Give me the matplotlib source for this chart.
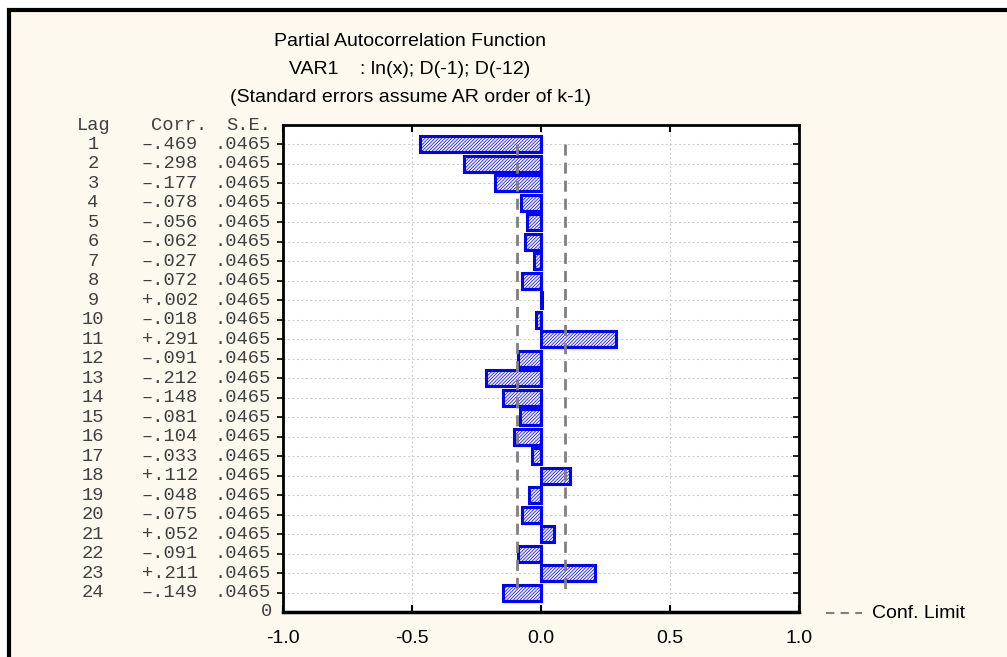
import numpy as np
import matplotlib
matplotlib.use("Agg")
import matplotlib.pyplot as plt
from matplotlib.patches import Rectangle
from matplotlib.lines import Line2D
import matplotlib.transforms as mtransforms

# partial autocorrelations
lags = list(range(1, 25))
corr = [-0.469, -0.298, -0.177, -0.078, -0.056, -0.062, -0.027, -0.072,
        0.002, -0.018, 0.291, -0.091, -0.212, -0.148, -0.081, -0.104,
        -0.033, 0.112, -0.048, -0.075, 0.052, -0.091, 0.211, -0.149]
se = [0.0465] * 24
title_lines = ["Partial Autocorrelation Function",
               "VAR1    : ln(x); D(-1); D(-12)",
               "(Standard errors assume AR order of k-1)"]
xticks = [-1.0, -0.5, 0.0, 0.5, 1.0]

W, H = 1007, 657
plt.rcParams["hatch.linewidth"] = 0.5
fig = plt.figure(figsize=(W / 100, H / 100), dpi=100)
fig.patch.set_facecolor("white")

# cream panel with black frame
fig.patches.append(Rectangle((9 / W, -0.1), 1.1, 1 - 10 / H + 0.1,
                             transform=fig.transFigure, facecolor="#fdf9ee",
                             edgecolor="black", lw=3, zorder=-10))

ax = fig.add_axes([283 / W, 1 - 612 / H, 516 / W, 487 / H])
ax.set_facecolor("white")
ax.set_xlim(-1, 1)
ax.set_ylim(25, 0)

ax.barh(lags, corr, height=0.82, color="#f2f2ff", edgecolor="#0000ff",
        hatch="//////////", lw=2.2, zorder=3)

# confidence limits (2 * S.E.)
lim = 2 * np.array(se)
ax.plot(lim, lags, color="#808080", lw=2, ls=(0, (4, 2.5)), zorder=4)
ax.plot(-lim, lags, color="#808080", lw=2, ls=(0, (4, 2.5)), zorder=4)

ax.set_xticks(xticks)
ax.set_xticklabels(["%.1f" % v for v in xticks], fontsize=14,
                   family="Liberation Sans")
ax.set_yticks(lags)
ax.set_yticklabels([])
ax.tick_params(axis="x", direction="in", top=True, length=5, width=1.5, pad=13)
ax.tick_params(axis="y", direction="out", length=4, width=1.2)
ax.grid(True, color="#cfcfcf", ls=(0, (2, 2)), lw=0.8, zorder=0)
for s in ax.spines.values():
    s.set_linewidth(2)
ax.spines["bottom"].set_linewidth(2.5)

ax2 = ax.twinx()
ax2.set_ylim(25, 0)
ax2.set_yticks(lags)
ax2.set_yticklabels([])
ax2.tick_params(axis="y", direction="in", length=4, width=1.2)

# table of lag / corr / s.e. to the left
tr = mtransforms.blended_transform_factory(fig.transFigure, ax.transData)
mono = dict(family="Liberation Mono", fontsize=13.5, color="#404040",
            va="center", transform=tr)
fig.text(94 / W, 0.05, "Lag", ha="center", **mono)
fig.text(207 / W, 0.05, "Corr.", ha="right", **mono)
fig.text(271 / W, 0.05, "S.E.", ha="right", **mono)
for k, c, s in zip(lags, corr, se):
    cs = ("+" if c >= 0 else "\u2013") + ("%.3f" % abs(c))[1:]
    fig.text(93 / W, k, str(k), ha="center", **mono)
    fig.text(198 / W, k, cs, ha="right", **mono)
    fig.text(271 / W, k, ("%.4f" % s)[1:], ha="right", **mono)
fig.text(267 / W, 25, "0", ha="center", **mono)

# titles
for i, t in enumerate(title_lines):
    fig.text(410 / W, 1 - (42 + 28 * i) / H, t, ha="center", va="center",
             fontsize=14, family="Liberation Sans")

# legend
fig.lines.append(Line2D([826 / W, 862 / W], [1 - 613 / H] * 2,
                        transform=fig.transFigure, color="#808080", lw=1.5,
                        ls=(0, (4, 3))))
fig.text(872 / W, 1 - 613 / H, "Conf. Limit", va="center", fontsize=14,
         family="Liberation Sans")

fig.savefig("out.png", dpi=100, facecolor=fig.get_facecolor())
